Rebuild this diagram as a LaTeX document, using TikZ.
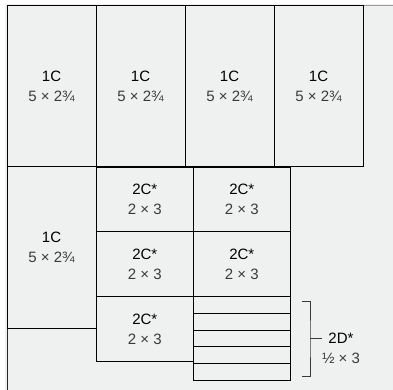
\documentclass[tikz,border=0pt]{standalone}
\usepackage{fontspec}
\setmainfont{Liberation Sans}
\usetikzlibrary{positioning}
\definecolor{paper}{HTML}{EFF0F0}
\definecolor{ink}{HTML}{3A3A3A}
\definecolor{rim}{HTML}{9A9A9A}

\begin{document}
\begin{tikzpicture}[x=1pt,y=-1pt,
  cut/.style={rectangle,draw=black,line width=0.8pt,fill=paper,inner sep=0pt,outer sep=0pt,align=center,font=\fontsize{15}{20}\selectfont},
  onec/.style={cut,minimum width=89pt,minimum height=161.8pt},
  twoc/.style={cut,minimum width=97pt,minimum height=64.8pt},
  twod/.style={cut,minimum width=97pt,minimum height=16.7pt},
  brace/.style={draw=ink,line width=0.8pt}]
\useasboundingbox (0,0) rectangle (393,390);
% sheet
\fill[white] (0,0) rectangle (393,390);
\fill[paper] (5,4) rectangle (393,390);
\draw[rim,line width=0.9pt] (7,5) -- (393,5);
\draw[black!85,line width=0.9pt] (7,5) -- (7,390);
% top row
\node at (51.5,85.9)[onec](c1){1C\\{\color{ink}5 × 2¾}};
\node at (140.5,85.9)[onec](c2){1C\\{\color{ink}5 × 2¾}};
\node at (229.5,85.9)[onec](c3){1C\\{\color{ink}5 × 2¾}};
\node at (318.5,85.9)[onec](c4){1C\\{\color{ink}5 × 2¾}};
\node at (51.5,247.7)[onec](c5){1C\\{\color{ink}5 × 2¾}};
% 2C pieces
\node at (144.8,199.4)[twoc](p1){2C*\\{\color{ink}2 × 3}};
\node at (144.8,264.2)[twoc](p2){2C*\\{\color{ink}2 × 3}};
\node at (144.8,329.0)[twoc](p3){2C*\\{\color{ink}2 × 3}};
\node at (241.8,199.4)[twoc](p4){2C*\\{\color{ink}2 × 3}};
\node at (241.8,264.2)[twoc](p5){2C*\\{\color{ink}2 × 3}};
% 2D strips
\foreach \i in {0,...,4}
  \node at (241.8,{305+16.7*\i})[twod](d\i){};
% bracket
\coordinate (bt) at (301.7,301.7);
\coordinate (bb) at (301.7,376);
\coordinate (bm) at (310,338.8);
\coordinate (be) at (321.7,338.8);
\draw[brace] (bt) -| (bm) |- (bb);
\draw[brace] (bm) -- (be);
\node at (341,348.5)[align=center,font=\fontsize{15}{20}\selectfont](dlab){2D*\\{\color{ink}½ × 3}};
\end{tikzpicture}
\end{document}
